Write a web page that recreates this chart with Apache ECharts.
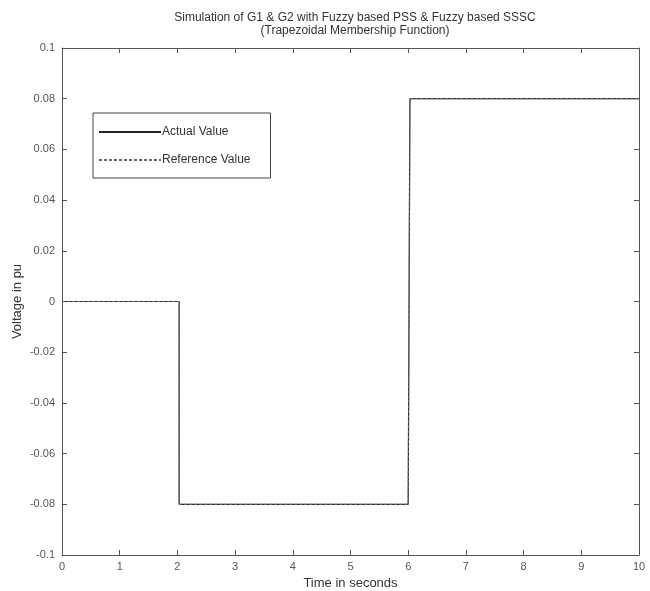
<!DOCTYPE html>
<html><head><meta charset="utf-8">
<script src="https://cdn.jsdelivr.net/npm/echarts@6/dist/echarts.min.js"></script>
<style>html,body{margin:0;padding:0;background:#fff}#c{width:650px;height:591px}</style>
</head><body><div id="c"></div>
<script>
var timePoints = [0, 2.03, 2.03, 6.0, 6.03, 10];
var actualValue = [0, 0, -0.08, -0.08, 0.08, 0.08];
var referenceValue = [0, 0, -0.08, -0.08, 0.08, 0.08];
var xTicks = [0,1,2,3,4,5,6,7,8,9,10];
var yTicks = [-0.1,-0.08,-0.06,-0.04,-0.02,0,0.02,0.04,0.06,0.08,0.1];

function pairs(xs, ys){ return xs.map(function(x,i){ return [x, ys[i]]; }); }
var chart = echarts.init(document.getElementById('c'), null, {renderer:'canvas'});
var axisCol = '#555';
var font = 'Liberation Sans, Arial, sans-serif';
function fmtY(v){ return String(parseFloat(v.toFixed(2))); }
function baseAxis(extra){
  return Object.assign({
    axisLine:{show:true, onZero:false, lineStyle:{color:axisCol, width:1}},
    axisTick:{show:true, inside:true, length:5, lineStyle:{color:axisCol}},
    splitLine:{show:false},
    axisLabel:{color:'#555', fontSize:11, fontFamily:font}
  }, extra);
}
chart.setOption({
  animation:false,
  backgroundColor:'#fff',
  title:{
    text:'Simulation of G1 & G2 with Fuzzy based PSS & Fuzzy based SSSC\n(Trapezoidal Membership Function)',
    left:350, top:6, textAlign:'center',
    textStyle:{fontSize:12, fontWeight:'normal', color:'#333', fontFamily:font, lineHeight:13}
  },
  grid:{left:62, right:11, top:48, bottom:36, containLabel:false, outerBoundsMode:'none'},
  legend:{
    orient:'vertical', left:93, top:113,
    padding:[13,20,12,5], itemGap:16,
    itemWidth:62, itemHeight:12,
    borderColor:'#444', borderWidth:1, backgroundColor:'#fff',
    itemStyle:{color:'rgba(0,0,0,0)', borderWidth:0, borderColor:'rgba(0,0,0,0)'},
    textStyle:{fontSize:12, color:'#333', fontFamily:font, padding:[0,0,0,-4]},
    data:['Actual Value','Reference Value']
  },
  xAxis:[
    baseAxis({type:'value', min:0, max:10, interval:1, position:'bottom',
      name:'Time in seconds', nameLocation:'middle', nameGap:22, nameMoveOverlap:false,
      nameTextStyle:{fontSize:13, color:'#333', fontFamily:font},
      axisLabel:{color:'#555', fontSize:11, fontFamily:font, margin:6}}),
    baseAxis({type:'value', min:0, max:10, interval:1, position:'top',
      axisLabel:{show:false}})
  ],
  yAxis:[
    baseAxis({type:'value', min:-0.1, max:0.1, interval:0.02, position:'left',
      name:'Voltage in pu', nameLocation:'middle', nameGap:38, nameMoveOverlap:false,
      nameTextStyle:{fontSize:13, color:'#333', fontFamily:font},
      axisLabel:{color:'#555', fontSize:11, fontFamily:font, margin:7, formatter:fmtY}}),
    baseAxis({type:'value', min:-0.1, max:0.1, interval:0.02, position:'right',
      axisLabel:{show:false}})
  ],
  series:[
    {name:'Actual Value', type:'line', xAxisIndex:0, yAxisIndex:0, symbol:'none',
     data:pairs(timePoints, actualValue),
     lineStyle:{color:'#222', width:1.2}, itemStyle:{color:'#222'}},
    {name:'Reference Value', type:'line', xAxisIndex:0, yAxisIndex:0, symbol:'none',
     data:pairs(timePoints, referenceValue),
     lineStyle:{color:'#666', width:1.2, type:[3,2]}, itemStyle:{color:'#666'}}
  ]
});
</script></body></html>
